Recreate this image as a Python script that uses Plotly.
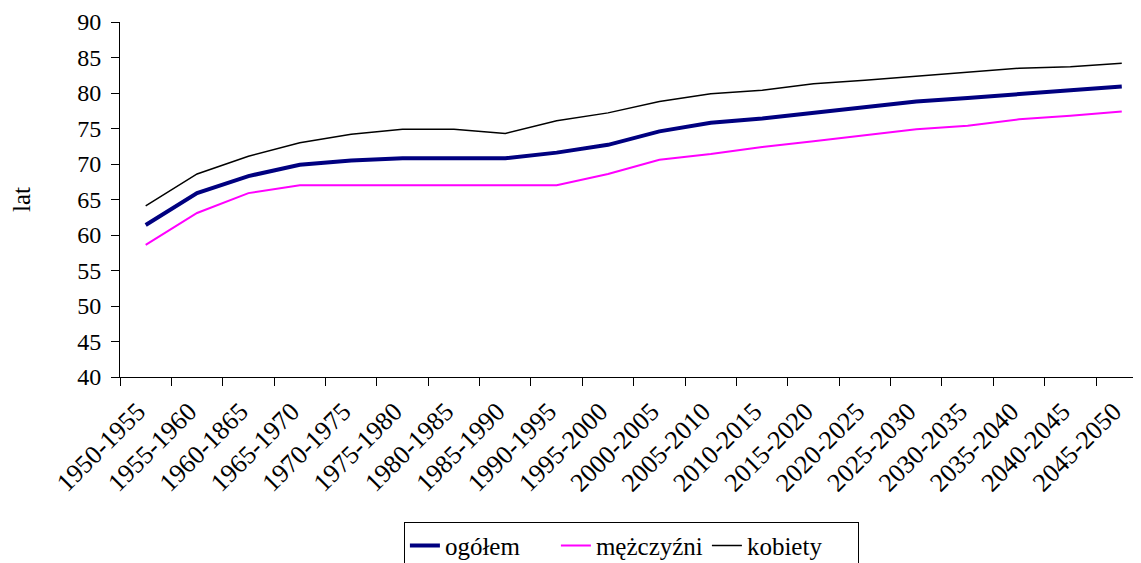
import plotly.graph_objects as go

categories = ["1950-1955", "1955-1960", "1960-1865", "1965-1970", "1970-1975",
              "1975-1980", "1980-1985", "1985-1990", "1990-1995", "1995-2000",
              "2000-2005", "2005-2010", "2010-2015", "2015-2020", "2020-2025",
              "2025-2030", "2030-2035", "2035-2040", "2040-2045", "2045-2050"]

ogolem = [61.4, 65.9, 68.3, 69.9, 70.5, 70.8, 70.8, 70.8, 71.6, 72.7,
          74.6, 75.8, 76.4, 77.2, 78.0, 78.8, 79.3, 79.9, 80.4, 80.9]
mezczyzni = [58.6, 63.1, 65.9, 67.0, 67.0, 67.0, 67.0, 67.0, 67.0, 68.6,
             70.6, 71.4, 72.4, 73.2, 74.0, 74.9, 75.4, 76.3, 76.8, 77.4]
kobiety = [64.1, 68.6, 71.1, 73.0, 74.2, 74.9, 74.9, 74.3, 76.1, 77.2,
           78.8, 79.9, 80.4, 81.3, 81.8, 82.4, 82.9, 83.5, 83.7, 84.2]

y_ticks = [40, 45, 50, 55, 60, 65, 70, 75, 80, 85, 90]

FONT = "Liberation Serif"

fig = go.Figure()
fig.add_trace(go.Scatter(x=categories, y=ogolem, mode="lines", name="ogółem",
                         line=dict(color="#000080", width=4)))
fig.add_trace(go.Scatter(x=categories, y=mezczyzni, mode="lines", name="mężczyźni",
                         line=dict(color="#FF00FF", width=2)))
fig.add_trace(go.Scatter(x=categories, y=kobiety, mode="lines", name="kobiety",
                         line=dict(color="#000000", width=1.5)))

fig.update_layout(
    width=1141, height=563,
    margin=dict(l=112, r=0, t=14, b=194, autoexpand=False),
    paper_bgcolor="white", plot_bgcolor="white",
    font=dict(family=FONT, size=24, color="black"),
    showlegend=True,
    legend=dict(orientation="h", x=0.497, xanchor="center", y=-0.408, yanchor="top",
                bordercolor="black", borderwidth=1, font=dict(family=FONT, size=25),
                bgcolor="white", entrywidth=106),
)
fig.update_xaxes(type="category", range=[-0.5, 19.53], showline=True, linecolor="black",
                 linewidth=1, ticks="outside", ticklen=8, tickcolor="black",
                 tickson="boundaries", tickangle=-45, showgrid=False, zeroline=False,
                 automargin=False, ticklabelstandoff=8, ticklabelshift=-8,
                 tickfont=dict(family=FONT, size=26))
fig.update_yaxes(range=[40, 90], tickvals=y_ticks, showline=True, linecolor="black",
                 linewidth=1, ticks="outside", ticklen=8, tickcolor="black",
                 showgrid=False, zeroline=False, automargin=False, ticklabelstandoff=5,
                 tickfont=dict(family=FONT, size=24),
                 title=dict(text="lat", font=dict(family=FONT, size=25), standoff=54))

fig.write_html("out.html")
